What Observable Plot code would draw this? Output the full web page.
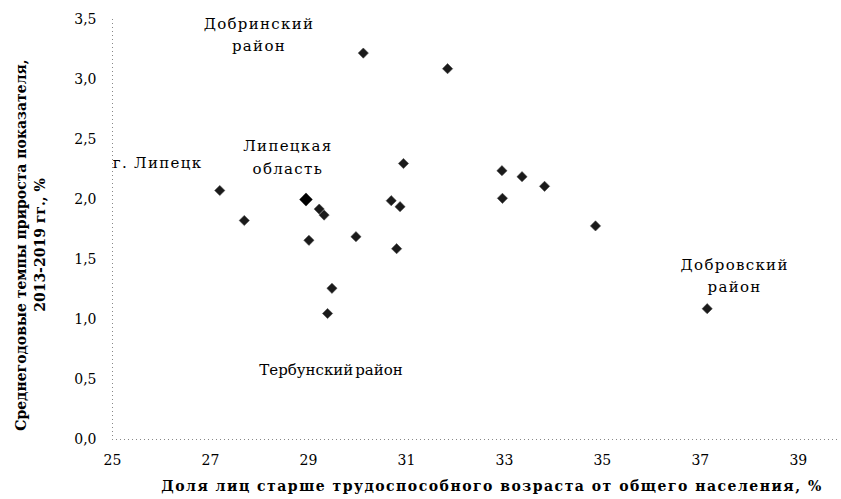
<!DOCTYPE html>
<html>
<head>
<meta charset="utf-8">
<script src="https://cdn.jsdelivr.net/npm/d3@7"></script>
<script src="https://cdn.jsdelivr.net/npm/@observablehq/plot@0.6"></script>
<style>
  html, body { margin: 0; padding: 0; background: #fff; }
  #chart svg { display: block; }
  #chart svg, #chart svg text { font-family: "DejaVu Serif", serif !important; }
</style>
</head>
<body>
<div id="chart"></div>
<script>
// Share of population older than working age, % (x) and average annual growth rate 2013-2019, % (y)
const xValues = [27.19, 27.69, 29.22, 29.32, 29.01, 29.97, 29.48, 29.39, 30.12, 31.84, 30.94, 30.69, 30.87, 30.80, 32.95, 33.36, 33.82, 32.96, 34.86, 37.14];
const yValues = [2.075, 1.825, 1.92, 1.87, 1.66, 1.69, 1.26, 1.05, 3.22, 3.09, 2.30, 1.99, 1.94, 1.59, 2.24, 2.19, 2.11, 2.01, 1.78, 1.09];
// Lipetsk region (average) point
const regionX = [28.95];
const regionY = [2.0];

// Annotation labels (data units)
const labelText = ["Добринский\nрайон", "г. Липецк", "Липецкая\nобласть", "Тербунский район", "Добровский\nрайон"];
const labelX = [27.99, 25.92, 28.58, 29.46, 37.7];
const labelY = [3.387, 2.325, 2.37, 0.60, 1.38];

const xTicks = [25, 27, 29, 31, 33, 35, 37, 39];
const yTicks = [0, 0.5, 1, 1.5, 2, 2.5, 3, 3.5];

const xTitle = "Доля лиц старше трудоспособного возраста от общего населения, %";
const yTitle1 = "Среднегодовые темпы прироста показателя,";
const yTitle2 = "2013-2019 гг., %";

const points = xValues.map((x, i) => ({x, y: yValues[i]}));
const region = regionX.map((x, i) => ({x, y: regionY[i]}));
const labels = labelText.map((t, i) => ({t, x: labelX[i], y: labelY[i]}));

const fmt = d => d3.format(".1f")(d).replace(".", ",");

const chart = Plot.plot({
  width: 841,
  height: 499,
  marginLeft: 112,
  marginRight: 4,
  marginTop: 19,
  marginBottom: 60,
  style: {fontSize: "14px", color: "#000", background: "#fff"},
  x: {domain: [25, 39.8], ticks: xTicks, tickFormat: d => String(d), tickSize: 0, tickPadding: 16, label: null},
  y: {domain: [0, 3.5], ticks: yTicks, tickFormat: fmt, tickSize: 0, tickPadding: 16, label: null},
  marks: [
    Plot.ruleY([0], {stroke: "#888", strokeDasharray: "1,3", strokeWidth: 1}),
    Plot.ruleX([25], {stroke: "#888", strokeDasharray: "1,3", strokeWidth: 1}),
    Plot.dot(points, {x: "x", y: "y", symbol: "diamond2", r: 4.6, fill: "#1a1a1a", stroke: "#444", strokeWidth: 0.6}),
    Plot.dot(region, {x: "x", y: "y", symbol: "diamond2", r: 6, fill: "#000"}),
    Plot.text(labels, {x: "x", y: "y", text: "t", fontSize: 15, lineHeight: 1.5, fill: "#000", textAnchor: "middle"})
  ]
});

const svg = d3.select(chart);
svg.selectAll("g[aria-label='text'] > text")
  .style("letter-spacing", function() { return this.textContent.startsWith("Тербун") ? "0px" : "1.3px"; })
  .style("word-spacing", function() { return this.textContent.startsWith("Тербун") ? "-3px" : null; });

svg.append("text")
  .attr("x", 492).attr("y", 491)
  .attr("text-anchor", "middle")
  .style("font-weight", "bold")
  .style("font-size", "14px")
  .style("letter-spacing", "1.5px")
  .text(xTitle);

const yt = svg.append("g").attr("transform", "translate(0,245) rotate(-90)");
yt.append("text").attr("x", 0).attr("y", 26)
  .attr("text-anchor", "middle")
  .style("font-weight", "bold").style("font-size", "14px")
  .text(yTitle1);
yt.append("text").attr("x", 0).attr("y", 45)
  .attr("text-anchor", "middle")
  .style("font-weight", "bold").style("font-size", "14px")
  .text(yTitle2);

document.getElementById("chart").appendChild(chart);
</script>
</body>
</html>
